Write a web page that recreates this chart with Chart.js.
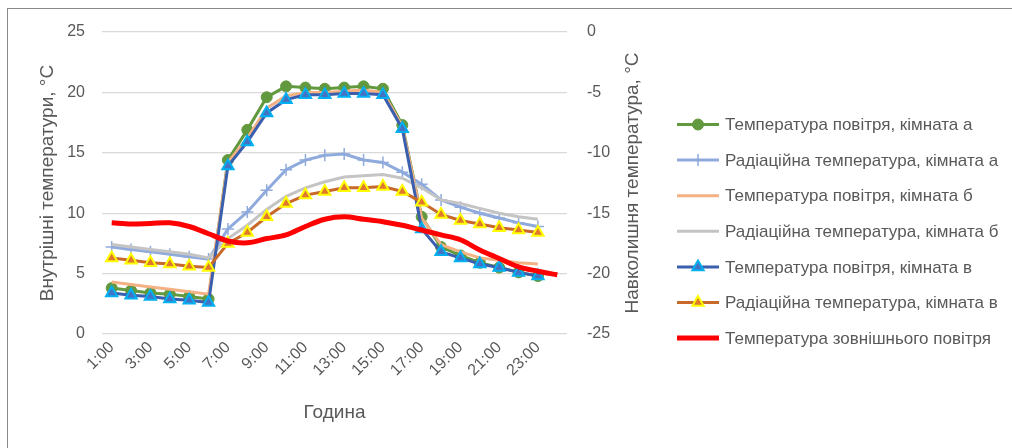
<!DOCTYPE html>
<html>
<head>
<meta charset="utf-8">
<script src="https://cdn.jsdelivr.net/npm/chart.js@4/dist/chart.umd.min.js"></script>
<style>
  html, body { margin: 0; padding: 0; background: #fff; overflow: hidden; }
  #wrap { position: relative; width: 1012px; height: 448px; }
  #frame { position: absolute; left: 7px; top: 8px; width: 1200px; height: 600px; border: 1px solid #8a8a8a; pointer-events: none; box-sizing: border-box; }
  canvas { position: absolute; left: 0; top: 0; }
</style>
</head>
<body>
<div id="wrap">
  <canvas id="c" width="1012" height="448"></canvas>
  <div id="frame"></div>
</div>
<script>
// ---- data ----
const hours = ['1:00','2:00','3:00','4:00','5:00','6:00','7:00','8:00','9:00','10:00','11:00','12:00',
               '13:00','14:00','15:00','16:00','17:00','18:00','19:00','20:00','21:00','22:00','23:00','24:00'];
const airA  = [3.8,3.6,3.4,3.3,3.1,2.9,14.4,16.9,19.6,20.5,20.4,20.3,20.4,20.5,20.3,17.3,9.7,7.2,6.5,5.9,5.5,5.1,4.8,null];
const radA  = [7.2,7.0,6.8,6.6,6.4,6.2,8.7,10.1,11.9,13.6,14.4,14.8,14.9,14.4,14.2,13.4,12.4,11.1,10.5,10.0,9.6,9.2,8.9,null];
const airB  = [4.3,4.1,3.9,3.7,3.5,3.3,14.2,16.2,18.7,19.7,20.0,20.0,20.1,20.2,20.0,17.2,9.6,7.4,6.8,6.3,6.1,5.9,5.8,null];
const radB  = [7.4,7.2,7.0,6.8,6.6,6.3,7.9,9.0,10.3,11.4,12.1,12.6,13.0,13.1,13.2,12.9,12.1,11.1,10.8,10.4,10.0,9.7,9.5,null];
const airV  = [3.4,3.2,3.1,2.9,2.8,2.6,13.9,15.9,18.3,19.4,19.8,19.8,19.9,19.9,19.8,17.0,8.7,6.8,6.3,5.8,5.5,5.1,4.8,null];
const radV  = [6.3,6.1,5.9,5.8,5.6,5.5,7.5,8.4,9.7,10.8,11.5,11.8,12.1,12.1,12.2,11.8,10.9,9.9,9.4,9.1,8.8,8.6,8.4,null];
const outdoor = [-15.8,-15.9,-15.85,-15.8,-16.1,-16.7,-17.3,-17.45,-17.1,-16.8,-16.1,-15.5,-15.3,-15.5,-15.7,-16.0,-16.4,-16.8,-17.2,-18.05,-18.75,-19.45,-19.8,-20.1];

const seriesNames = [
  'Температура повітря, кімната а',
  'Радіаційна температура, кімната а',
  'Температура повітря, кімната б',
  'Радіаційна температура, кімната б',
  'Температура повітря, кімната в',
  'Радіаційна температура, кімната в',
  'Температура зовнішнього повітря'
];
const leftTicks = [0,5,10,15,20,25];
const rightTicks = [-25,-20,-15,-10,-5,0];
const xTitle = 'Година';
const leftTitle = 'Внутрішні температури, °C';
const rightTitle = 'Навколишня температура, °C';

const FONT = 'Liberation Sans';
const TXT = '#595959';
Chart.defaults.font.family = FONT;
Chart.defaults.color = TXT;

const datasets = [
  { label: seriesNames[0], data: airA, yAxisID: 'y', borderColor: '#62993E', backgroundColor: '#62993E',
    borderWidth: 3, pointStyle: 'circle', pointRadius: 5.5, pointBorderWidth: 1, pointBackgroundColor: '#62993E', pointBorderColor: '#62993E', order: 6 },
  { label: seriesNames[1], data: radA, yAxisID: 'y', borderColor: '#8FAADC', backgroundColor: '#8FAADC',
    borderWidth: 3, pointStyle: 'cross', pointRadius: 6, pointBorderWidth: 1.5, pointBorderColor: '#8FAADC', order: 5 },
  { label: seriesNames[2], data: airB, yAxisID: 'y', borderColor: '#F4B183', backgroundColor: '#F4B183',
    borderWidth: 3, pointRadius: 0, order: 4 },
  { label: seriesNames[3], data: radB, yAxisID: 'y', borderColor: '#C4C4C4', backgroundColor: '#C4C4C4',
    borderWidth: 3, pointRadius: 0, order: 3 },
  { label: seriesNames[4], data: airV, yAxisID: 'y', borderColor: '#3A5FAE', backgroundColor: '#3A5FAE',
    borderWidth: 3, pointStyle: 'triangle', pointRadius: 6.5, pointBorderWidth: 2, pointBackgroundColor: '#4472C4', pointBorderColor: '#00B0F0', order: 2 },
  { label: seriesNames[5], data: radV, yAxisID: 'y', borderColor: '#C8692A', backgroundColor: '#C8692A',
    borderWidth: 3, pointStyle: 'triangle', pointRadius: 6.5, pointBorderWidth: 2, pointBackgroundColor: '#E0782E', pointBorderColor: '#FFFF00', order: 1 },
  { label: seriesNames[6], data: outdoor, yAxisID: 'y2', borderColor: '#FF0000', backgroundColor: '#FF0000',
    borderWidth: 5, pointRadius: 0, tension: 0.35, order: 0 }
];

const customLegend = {
  id: 'customLegend',
  afterDraw(chart) {
    const ctx = chart.ctx;
    const x0 = 677, x1 = 719, tx = 725, y0 = 124.5, dy = 35.6;
    ctx.save();
    chart.data.datasets.forEach((ds, i) => {
      const y = y0 + i * dy;
      ctx.strokeStyle = ds.borderColor;
      ctx.lineWidth = ds.borderWidth;
      ctx.lineCap = 'butt';
      ctx.beginPath(); ctx.moveTo(x0, y); ctx.lineTo(x1, y); ctx.stroke();
      if (ds.pointRadius > 0) {
        ctx.fillStyle = ds.pointBackgroundColor || ds.borderColor;
        ctx.strokeStyle = ds.pointBorderColor || ds.borderColor;
        ctx.lineWidth = ds.pointBorderWidth;
        Chart.helpers.drawPoint(ctx, { pointStyle: ds.pointStyle, radius: ds.pointRadius, borderWidth: ds.pointBorderWidth, rotation: 0 }, (x0 + x1) / 2, y);
      }
      ctx.fillStyle = TXT;
      ctx.font = '17px ' + FONT;
      ctx.textBaseline = 'middle';
      ctx.textAlign = 'left';
      ctx.fillText(ds.label, tx, y + 1);
    });
    // right axis title (reads bottom to top)
    const ya = chart.scales.y2;
    ctx.translate(633, (ya.top + ya.bottom) / 2);
    ctx.rotate(-Math.PI / 2);
    ctx.font = '19px ' + FONT;
    ctx.textAlign = 'center';
    ctx.textBaseline = 'middle';
    ctx.fillText(rightTitle, 0, 0);
    ctx.restore();
  }
};

new Chart(document.getElementById('c'), {
  type: 'line',
  data: { labels: hours, datasets },
  plugins: [customLegend],
  options: {
    responsive: false,
    devicePixelRatio: 1,
    animation: false,
    layout: { padding: { top: 32, right: 352, bottom: 0, left: 0 } },
    plugins: { legend: { display: false }, tooltip: { enabled: false } },
    elements: { line: { tension: 0 } },
    scales: {
      x: {
        type: 'category',
        offset: true,
        grid: { display: false, drawTicks: false },
        border: { display: false },
        ticks: {
          autoSkip: false, maxRotation: 45, minRotation: 45, padding: 4,
          font: { size: 16 }, color: TXT,
          callback: function (v, i) { return i % 2 === 0 ? hours[i] : ''; }
        },
        title: { display: true, text: xTitle, font: { size: 19 }, color: TXT, padding: { top: 4, bottom: 24 } },
        afterFit(s) { s.height = 114; }
      },
      y: {
        position: 'left',
        min: 0, max: 25,
        afterBuildTicks(s) { s.ticks = leftTicks.map(v => ({ value: v })); },
        grid: { color: '#D9D9D9', lineWidth: 1.3, drawTicks: false },
        border: { display: false },
        ticks: { padding: 17, font: { size: 16 }, color: TXT },
        title: { display: true, text: leftTitle, font: { size: 19 }, color: TXT, padding: { top: 36, bottom: 0 } },
        afterFit(s) { s.width = 102; }
      },
      y2: {
        position: 'right',
        min: -25, max: 0,
        afterBuildTicks(s) { s.ticks = rightTicks.map(v => ({ value: v })); },
        grid: { display: false, drawTicks: false },
        border: { display: false },
        ticks: { padding: 20, font: { size: 16 }, color: TXT, callback: v => String(v) },
        afterFit(s) { s.width = 93; }
      }
    }
  }
});
</script>
</body>
</html>
